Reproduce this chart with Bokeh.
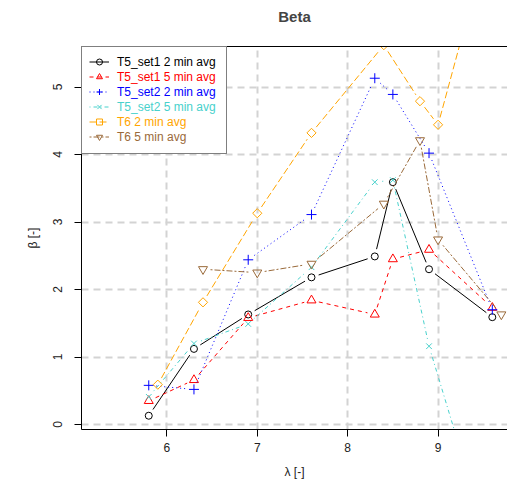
import math

from bokeh.plotting import figure
from bokeh.models import FixedTicker, LinearAxis, Legend, LegendItem, Range1d
from bokeh.embed import file_html
from bokeh.resources import INLINE

# Tip speed ratio (lambda) at which each configuration was measured
lam_t5 = [5.8, 6.3, 6.9, 7.6, 8.3, 8.5, 8.9, 9.6]
lam_t6 = [5.9, 6.4, 7.0, 7.6, 8.4, 8.8, 9.0, 9.7]

# Beta values per series (nan = no measurement)
beta_t5_set1_2min = [0.13, 1.12, 1.63, 2.18, 2.49, 3.59, 2.30, 1.59]
beta_t5_set1_5min = [0.35, 0.66, 1.58, 1.84, 1.63, 2.45, 2.59, 1.73]
beta_t5_set2_2min = [0.58, 0.52, 2.44, 3.11, 5.13, 4.89, 4.02, 1.70]
beta_t5_set2_5min = [0.41, 1.20, 1.49, 2.33, 3.59, 3.62, 1.16, -1.95]
beta_t6_2min = [0.59, 1.81, 3.13, 4.32, 5.62, 4.79, 4.44, 7.90]
beta_t6_5min = [float("nan"), 2.30, 2.25, 2.38, 3.27, 4.21, 2.74, 1.63]

labels = ["T5_set1 2 min avg", "T5_set1 5 min avg", "T5_set2 2 min avg",
          "T5_set2 5 min avg", "T6 2 min avg", "T6 5 min avg"]
x_ticks = [6, 7, 8, 9]
y_ticks = [0, 1, 2, 3, 4, 5]

FONT = "Liberation Sans"
W, H = 507, 494
B_LEFT, B_RIGHT, B_TOP, B_BOTTOM = 81, 0, 46, 65
X0, X1 = 5.056, 9.768
Y0, Y1 = -0.074, 5.60
FW = W - B_LEFT - B_RIGHT
FH = H - B_TOP - B_BOTTOM
SX = FW / (X1 - X0)
SY = FH / (Y1 - Y0)
GAP = 7.5  # px left open around each point ("both" style lines)

series = [
    (labels[0], lam_t5, beta_t5_set1_2min, "black", "solid", "circle", 7, 0.0),
    (labels[1], lam_t5, beta_t5_set1_5min, "red", "4 4", "triangle", 9, 0.0),
    (labels[2], lam_t5, beta_t5_set2_2min, "blue", "1 3", "cross", 10, 0.0),
    (labels[3], lam_t5, beta_t5_set2_5min, "#48D1CC", "1 3 4 3", "x", 8, 0.0),
    (labels[4], lam_t6, beta_t6_2min, "#FFA500", "7 3", "square", 6.5, math.pi / 4),
    (labels[5], lam_t6, beta_t6_5min, "#9A6A3A", "2 2 6 2", "inverted_triangle", 9, 0.0),
]


def gapped_segments(xs, ys):
    """Segments between consecutive points, shortened by GAP pixels at both ends."""
    x0s, y0s, x1s, y1s = [], [], [], []
    for i in range(len(xs) - 1):
        xa, ya, xb, yb = xs[i], ys[i], xs[i + 1], ys[i + 1]
        if any(math.isnan(v) for v in (xa, ya, xb, yb)):
            continue
        dxp, dyp = (xb - xa) * SX, (yb - ya) * SY
        length = math.hypot(dxp, dyp)
        if length <= 2 * GAP:
            continue
        ux, uy = dxp / length, dyp / length
        x0s.append(xa + GAP * ux / SX)
        y0s.append(ya + GAP * uy / SY)
        x1s.append(xb - GAP * ux / SX)
        y1s.append(yb - GAP * uy / SY)
    return x0s, y0s, x1s, y1s


p = figure(width=W, height=H, output_backend="svg", toolbar_location=None,
           x_range=Range1d(X0, X1), y_range=Range1d(Y0, Y1),
           min_border_left=B_LEFT, min_border_right=B_RIGHT,
           min_border_top=B_TOP, min_border_bottom=B_BOTTOM,
           outline_line_color=None, background_fill_color="white",
           border_fill_color="white")

p.title.text = "Beta"
p.title.text_font = FONT
p.title.text_font_size = "15px"
p.title.text_font_style = "bold"
p.title.align = "center"

# grid
for g in (p.xgrid, p.ygrid):
    g.grid_line_color = "#D3D3D3"
    g.grid_line_width = 2
    g.grid_line_dash = "7 5"
p.xgrid.ticker = FixedTicker(ticks=x_ticks)
p.ygrid.ticker = FixedTicker(ticks=y_ticks)

# axes
for ax, ticks, lab in ((p.xaxis[0], x_ticks, "λ [-]"), (p.yaxis[0], y_ticks, "β [-]")):
    ax.ticker = FixedTicker(ticks=ticks)
    ax.axis_label = lab
    ax.axis_label_text_font = FONT
    ax.axis_label_text_font_size = "12px"
    ax.axis_label_text_font_style = "normal"
    ax.axis_label_text_color = "#222222"
    ax.major_label_text_font = FONT
    ax.major_label_text_font_size = "12px"
    ax.major_label_text_color = "#222222"
    ax.major_tick_out = 7
    ax.major_tick_in = 0
    ax.minor_tick_out = 0
    ax.minor_tick_in = 0
    ax.axis_line_color = "black"
    ax.major_tick_line_color = "black"
p.xaxis[0].major_label_standoff = 6
p.xaxis[0].axis_label_standoff = 10
p.yaxis[0].major_label_orientation = "vertical"
p.yaxis[0].major_label_standoff = 12
p.yaxis[0].axis_label_standoff = 11

# top border line of the plot box; a blank axis label keeps the title raised
top_axis = LinearAxis(ticker=FixedTicker(ticks=[]), axis_line_color="black",
                      major_tick_line_color=None, minor_tick_line_color=None,
                      major_label_text_font_size="0px",
                      axis_label="\u2007", axis_label_text_alpha=0.0,
                      axis_label_text_font_size="11px", axis_label_standoff=2)
p.add_layout(top_axis, "above")

items = []
for label, xs, ys, color, dash, marker, size, angle in series:
    x0s, y0s, x1s, y1s = gapped_segments(xs, ys)
    seg = p.segment(x0=x0s, y0=y0s, x1=x1s, y1=y1s, line_color=color,
                    line_width=1, line_dash=dash)
    pts = p.scatter(x=xs, y=ys, marker=marker, size=size, angle=angle,
                    line_color=color, fill_color=None, line_width=1)
    items.append((label, color, [seg, pts]))

LEG_PAD, ROW_H, GLYPH_W, STANDOFF = 8, 15, 20, 8
legend_style = dict(spacing=0, glyph_height=ROW_H, glyph_width=GLYPH_W,
                    label_height=ROW_H, label_standoff=STANDOFF,
                    label_text_font=FONT, label_text_font_size="12px")

# empty, invisible renderer so the boxed frame draws no glyphs of its own
blank = p.scatter(x=[], y=[], line_alpha=0.0, fill_alpha=0.0)

# boxed legend frame (white background and border); blank labels size the box
box = Legend(items=[LegendItem(label="\u2007" * 15, renderers=[blank]) for _ in items],
             location="top_left", margin=0, padding=LEG_PAD,
             border_line_color="black", border_line_width=1,
             background_fill_color="white", background_fill_alpha=1.0,
             label_text_alpha=0.0, **legend_style)
p.add_layout(box)

# one single-entry legend per series so each text takes its line colour
for i, (lab, color, r) in enumerate(items):
    leg = Legend(items=[LegendItem(label=lab, renderers=r)],
                 location=(LEG_PAD, FH - LEG_PAD - ROW_H * (i + 1)), margin=0, padding=0,
                 border_line_color=None, background_fill_alpha=0.0,
                 label_text_color=color, **legend_style)
    p.add_layout(leg)

open("out.html", "w").write(file_html(p, INLINE))
